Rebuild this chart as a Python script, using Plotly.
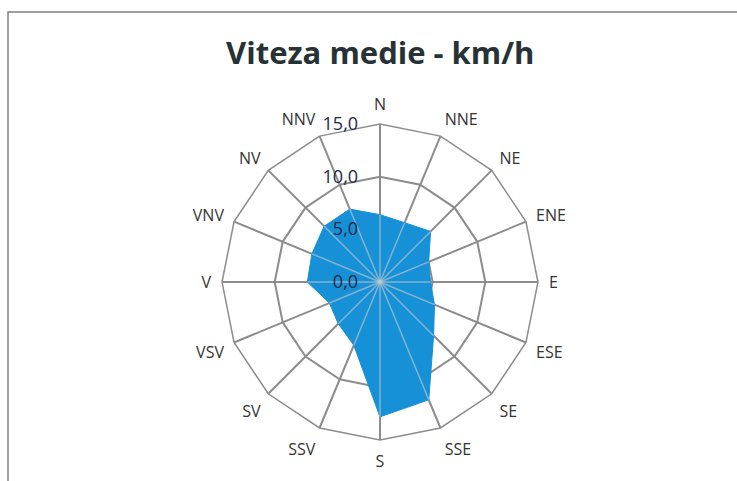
import plotly.graph_objects as go

directions = ["N", "NNE", "NE", "ENE", "E", "ESE", "SE", "SSE",
              "S", "SSV", "SV", "VSV", "V", "VNV", "NV", "NNV"]
speed = [6.4, 6.1, 6.8, 5.0, 4.8, 5.6, 7.2, 12.1,
         12.8, 6.5, 5.6, 5.2, 6.9, 7.0, 7.5, 7.5]
radial_ticks = [0, 5, 10, 15]
radial_labels = ["0,0", "5,0", "10,0", "15,0"]

grid = "#8c8c8c"
nb = "\u00a0" * 4

fig = go.Figure()
fig.add_trace(go.Scatterpolar(
    r=speed + speed[:1],
    theta=directions + directions[:1],
    mode="lines",
    fill="toself",
    fillcolor="#1690D6",
    line=dict(color="#1690D6", width=1),
    hoverinfo="skip",
))

# category spokes visible over the filled area
spoke_r, spoke_t = [], []
for d, s in zip(directions, speed):
    spoke_r += [0, s, None]
    spoke_t += [d, d, None]
fig.add_trace(go.Scatterpolar(
    r=spoke_r, theta=spoke_t, mode="lines",
    line=dict(color="rgba(205,205,205,0.6)", width=1.5),
    connectgaps=False, hoverinfo="skip",
))

fig.update_layout(
    width=737, height=481,
    margin=dict(l=0, r=0, t=0, b=0),
    paper_bgcolor="white",
    showlegend=False,
    title=dict(text="<b>Viteza medie - km/h</b>", x=0.516, xanchor="center",
               y=1 - 53/481, yanchor="middle",
               font=dict(family="Open Sans", size=31, color="#263236")),
    polar=dict(
        domain=dict(x=[0.3012, 0.73], y=[0.0852, 0.742]),
        gridshape="linear",
        bgcolor="white",
        angularaxis=dict(
            direction="clockwise", rotation=90,
            showline=True, linecolor=grid, linewidth=1.5,
            gridcolor=grid, gridwidth=1.5,
            ticks="outside", ticklen=7, tickcolor="rgba(0,0,0,0)",
            tickfont=dict(family="Open Sans", size=16, color="#333333"),
        ),
        radialaxis=dict(
            range=[0, 15], tickvals=radial_ticks,
            ticktext=[t + nb for t in radial_labels],
            angle=90, tickangle=90, side="counterclockwise",
            showline=False, ticks="",
            gridcolor=grid, gridwidth=1.5,
            tickfont=dict(family="Open Sans", size=18, color="#1f2a48"),
        ),
    ),
    shapes=[dict(type="rect", xref="paper", yref="paper",
                 x0=8/737, x1=745/737, y0=-0.02, y1=1-12/481,
                 line=dict(color="#808080", width=1.5))],
)

fig.write_html("out.html", config={"displayModeBar": False},
               post_script="document.body.style.margin='0px';")
